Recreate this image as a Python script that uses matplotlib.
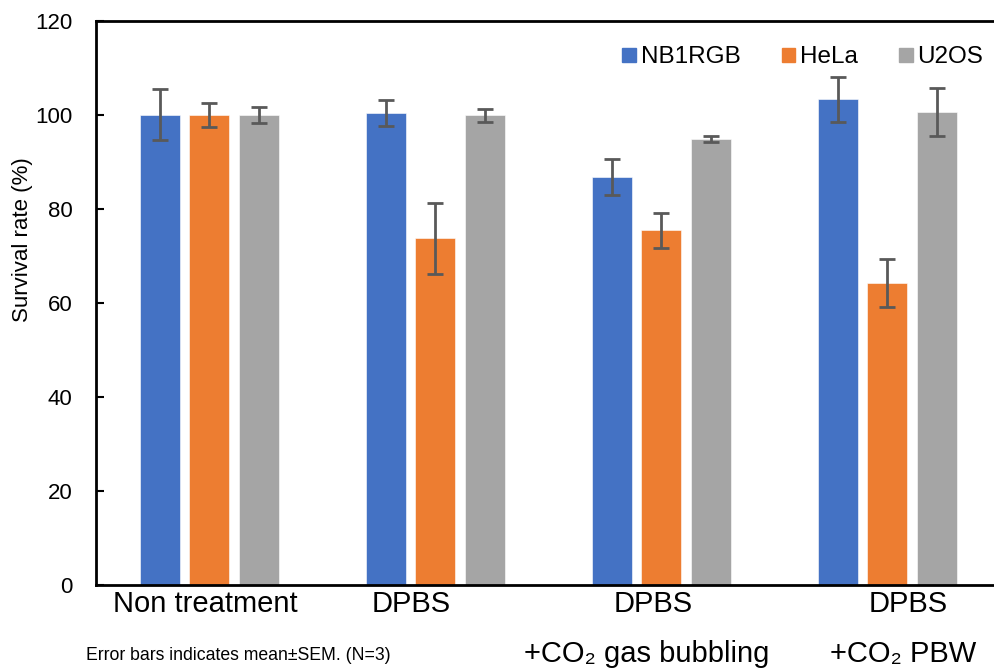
import numpy as np
import matplotlib
matplotlib.use("Agg")
import matplotlib.pyplot as plt
from matplotlib.patches import Patch

plt.rcParams['font.family'] = ['Liberation Sans', 'DejaVu Sans']

# Выживаемость клеток (%) и SEM по трём линиям
groups = ['Non treatment', 'DPBS', 'DPBS', 'DPBS']
group_sub = ['', '', '+CO\u2082 gas bubbling', '+CO\u2082 PBW']
cell_lines = ['NB1RGB', 'HeLa', 'U2OS']
nb1rgb = [100.0, 100.4, 86.8, 103.3]
nb1rgb_sem = [5.4, 2.8, 3.8, 4.8]
hela = [100.0, 73.7, 75.4, 64.3]
hela_sem = [2.6, 7.6, 3.7, 5.1]
u2os = [100.0, 99.9, 94.9, 100.6]
u2os_sem = [1.7, 1.4, 0.6, 5.1]

colors = ['#4472C4', '#ED7D31', '#A5A5A5']

fig = plt.figure(figsize=(9.95, 6.7), dpi=100)
ax = fig.add_axes([0.0965, 0.127, 0.909, 0.842])

x = np.arange(len(groups))
width = 0.177
step = 0.219
series = [(nb1rgb, nb1rgb_sem), (hela, hela_sem), (u2os, u2os_sem)]
for i, (vals, sem) in enumerate(series):
    ax.bar(x + (i - 1) * step, vals, width, color=colors[i],
           edgecolor='white', linewidth=0.4, zorder=2)
    ax.errorbar(x + (i - 1) * step, vals, yerr=sem, fmt='none',
                ecolor='#595959', elinewidth=2, capsize=6, capthick=2,
                zorder=3)

ax.set_xlim(-0.5, 3.5)
ax.set_ylim(0, 120)
ax.set_yticks(range(0, 121, 20))
ax.set_xticks([])
ax.tick_params(axis='y', direction='in', length=6, width=1.5,
               labelsize=16, pad=17)
for side in ['left', 'top', 'bottom']:
    ax.spines[side].set_linewidth(2)
ax.spines['right'].set_visible(False)
ax.set_ylabel('Survival rate (%)', fontsize=16)
ax.yaxis.set_label_coords(-0.070, 0.612)

# Подписи групп под осью
label_x = [-0.015, 0.896, 1.962, 3.09]
sub_x = [None, None, 1.936, 3.068]
trans = ax.get_xaxis_transform()
for gx, name in zip(label_x, groups):
    ax.text(gx, -0.034, name, transform=trans, ha='center', va='center',
            fontsize=21)
for sx, name in zip(sub_x, group_sub):
    if name:
        ax.text(sx, -0.122, name, transform=trans, ha='center',
                va='center', fontsize=21)

handles = [Patch(color=c, label=l) for c, l in zip(colors, cell_lines)]
ax.legend(handles=handles, ncol=3, loc='center right', frameon=False,
          fontsize=17.5, handlelength=0.55, handleheight=0.55,
          handletextpad=0.2, columnspacing=1.7, borderpad=0,
          borderaxespad=0, bbox_to_anchor=(0.981, 0.935))

fig.text(0.0865, 0.022, 'Error bars indicates mean\u00b1SEM. (N=3)',
         fontsize=12.7, ha='left', va='center')

fig.savefig('out.png', dpi=100)
